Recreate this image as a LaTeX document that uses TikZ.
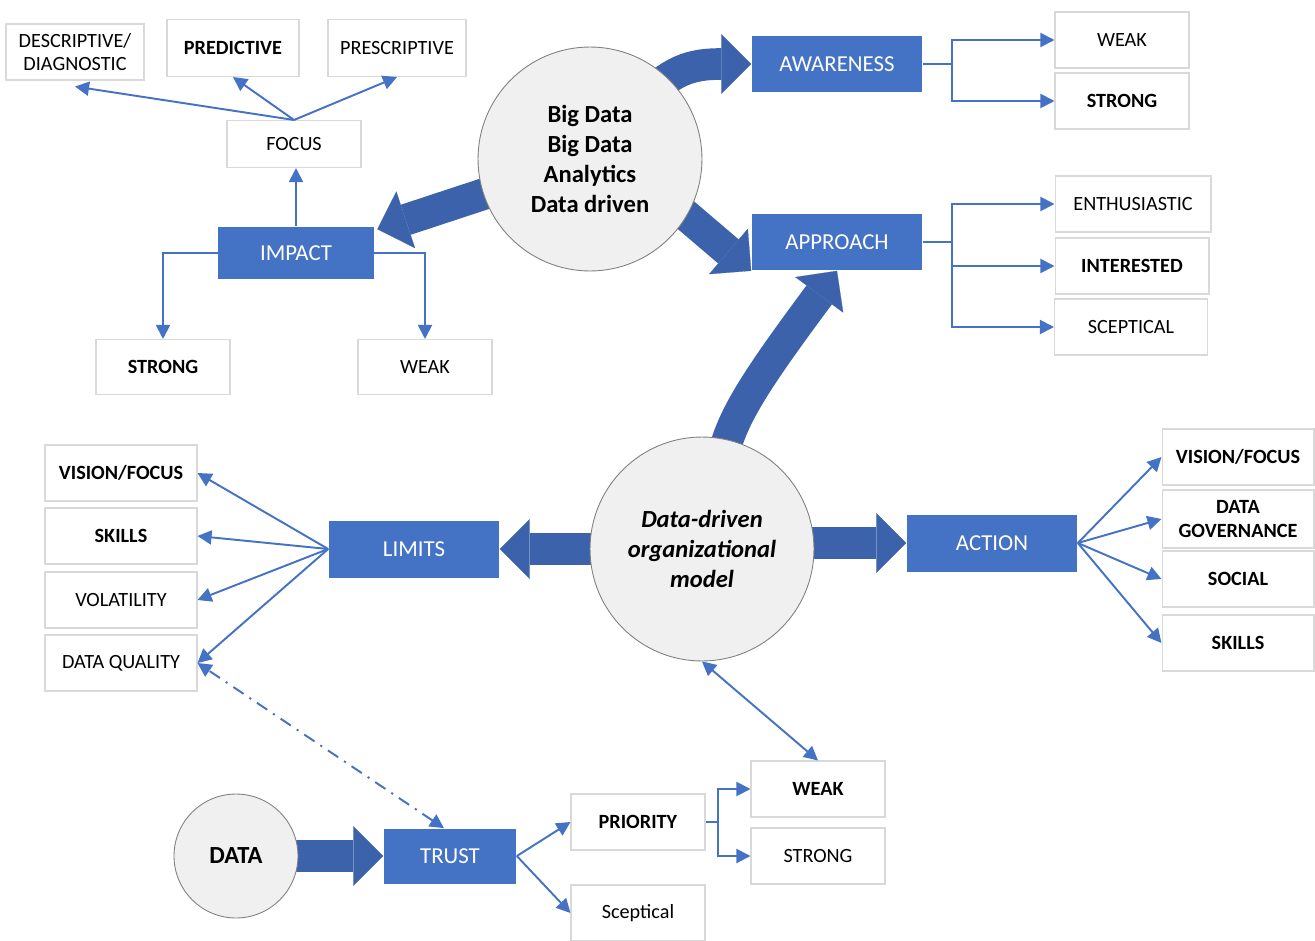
\documentclass[tikz,border=0pt]{standalone}
\usepackage{fontspec}
\setmainfont{Carlito}
\usepackage{xcolor}
\usetikzlibrary{
    arrows.meta,
    backgrounds,
    calc,
    positioning
}
\definecolor{boxblue}{HTML}{4472C4}
\definecolor{arrowblue}{HTML}{3B62AA}
\definecolor{circlegray}{HTML}{F0F0F0}
\definecolor{bordergray}{HTML}{D9D9D9}

\tikzset{
    item/.style={draw=bordergray, line width=0.6pt, fill=white, minimum width=2.68cm, minimum height=1.12cm, inner sep=1pt, align=center, font=\fontsize{11.5}{13.5}\selectfont},
    key/.style={fill=boxblue, text=white, minimum width=3.42cm, minimum height=1.14cm, inner sep=1pt, font=\fontsize{13}{15}\selectfont},
    hub/.style={circle, draw=gray, line width=0.5pt, fill=circlegray, minimum size=4.48cm, inner sep=0pt, align=center, font=\fontsize{14}{17}\selectfont\bfseries},
    link/.style={draw=boxblue, line width=1.1pt, -{Triangle[length=8pt,width=8pt]}},
    linkboth/.style={draw=boxblue, line width=1.1pt, {Triangle[length=8pt,width=8pt]}-{Triangle[length=8pt,width=8pt]}},
    bigarrow/.style={draw=arrowblue, line width=18pt, -{Triangle[length=17pt,width=34pt,line width=0.1pt]}}
}

\begin{document}
\begin{tikzpicture}[x=0.02cm, y=-0.02cm]
    \useasboundingbox (0,0) rectangle (1315,940);

    \node[item, minimum width=2.76cm] (desc) at (75,52) {DESCRIPTIVE/\\DIAGNOSTIC};
    \node[item, minimum width=2.64cm, minimum height=1.14cm] (pred) at (233,48) {\textbf{PREDICTIVE}};
    \node[item, minimum width=2.76cm, minimum height=1.14cm] (presc) at (397,48) {PRESCRIPTIVE};
    \node[item, minimum height=0.94cm] (focus) at (294,144) {FOCUS};
    \node[key, minimum width=3.12cm, minimum height=1.06cm] (impact) at (296,253) {IMPACT};
    \node[item, minimum height=1.1cm] (stri) at (163,367) {\textbf{STRONG}};
    \node[item, minimum height=1.1cm] (weaki) at (425,367) {WEAK};

    \node[hub] (bigdata) at (590,159) {Big Data\\Big Data\\Analytics\\Data driven};
    \node[key] (aware) at (837,64) {AWARENESS};
    \node[key] (appr) at (837,242) {APPROACH};
    \node[item] (weak1) at (1122,40) {WEAK};
    \node[item] (strong1) at (1122,101) {\textbf{STRONG}};
    \node[item, minimum width=3.12cm] (enth) at (1133,204) {ENTHUSIASTIC};
    \node[item, minimum width=3.08cm] (inter) at (1132,266) {\textbf{INTERESTED}};
    \node[item, minimum width=3.06cm] (scept) at (1131,327) {SCEPTICAL};

    \node[hub, font=\fontsize{14}{17}\selectfont\bfseries\itshape] (ddm) at (702,549) {Data-driven\\organizational\\model};
    \node[key] (limits) at (414,549) {LIMITS};
    \node[item, minimum width=3.04cm] (vis1) at (121,473) {\textbf{VISION/FOCUS}};
    \node[item, minimum width=3.04cm] (skill1) at (121,536) {\textbf{SKILLS}};
    \node[item, minimum width=3.04cm] (volat) at (121,600) {VOLATILITY};
    \node[item, minimum width=3.04cm] (dq) at (121,663) {DATA QUALITY};
    \node[key] (action) at (992,543) {ACTION};
    \node[item, minimum width=3.04cm] (vis2) at (1238,457) {\textbf{VISION/FOCUS}};
    \node[item, minimum width=3.04cm, minimum height=1.16cm] (gov) at (1238,519) {\textbf{DATA}\\\textbf{GOVERNANCE}};
    \node[item, minimum width=3.04cm] (social) at (1238,579) {\textbf{SOCIAL}};
    \node[item, minimum width=3.04cm] (skill2) at (1238,643) {\textbf{SKILLS}};

    \node[hub, minimum size=2.48cm] (data) at (236,856) {DATA};
    \node[key, minimum width=2.66cm, minimum height=1.1cm] (trust) at (450,856) {TRUST};
    \node[item] (prio) at (638,822) {\textbf{PRIORITY}};
    \node[item] (scep2) at (638,913) {Sceptical};
    \node[item] (weak2) at (818,789) {\textbf{WEAK}};
    \node[item] (strong2) at (818,856) {STRONG};

    \coordinate (awsplit) at (952,64);
    \coordinate (apsplit) at (952,242);
    \coordinate (prsplit) at (718,822);
    \coordinate (aw0) at (637,104);
    \coordinate (ap0) at (633,170);
    \coordinate (dd0) at (720,480);

    \begin{scope}[on background layer]
        \draw[bigarrow] (bigdata.center) -- ([shift={(0.06cm,-0.06cm)}]impact.north east);
        \draw[bigarrow] (aw0) .. controls (672,70) and (690,64) .. (aware.west);
        \draw[bigarrow] (ap0) -- (appr.south west);
        \draw[bigarrow] (dd0) .. controls (723,430) and (745,395) .. (appr.south);
        \draw[bigarrow] (ddm.center) -- (limits.east);
        \draw[bigarrow] (ddm.center |- action.west) -- (action.west);
        \draw[bigarrow] (data.center) -- (trust.west);
    \end{scope}

    \draw[link] (focus.north) -- ([yshift=-0.12cm]desc.south);
    \draw[link] (focus.north) -- (pred.south);
    \draw[link] (focus.north) -- (presc.south);
    \draw[link] (impact.north) -- (impact.north |- focus.south);
    \draw[link] (impact.west) -| (stri.north);
    \draw[link] (impact.east) -| (weaki.north);

    \draw[link] (aware.east) -- (awsplit) |- (weak1.west);
    \draw[link] (awsplit) |- (strong1.west);
    \draw[link] (appr.east) -- (apsplit) |- (enth.west);
    \draw[link] (apsplit) |- (inter.west);
    \draw[link] (apsplit) |- (scept.west);

    \foreach \n in {vis1,skill1,volat,dq}
        \draw[link] (limits.west) -- (\n.east);
    \foreach \n in {vis2,gov,social,skill2}
        \draw[link] (action.east) -- (\n.west);

    \draw[link] (trust.east) -- (prio.west);
    \draw[link] (trust.east) -- (scep2.west);
    \draw[link] (prio.east) -- (prsplit) |- (weak2.west);
    \draw[link] (prsplit) |- (strong2.west);
    \draw[linkboth] (ddm.south) -- (weak2.north);
    \draw[linkboth, dash pattern=on 7pt off 4pt on 1.2pt off 4pt] ([xshift=-0.12cm]trust.north) -- (dq.east);
\end{tikzpicture}
\end{document}
